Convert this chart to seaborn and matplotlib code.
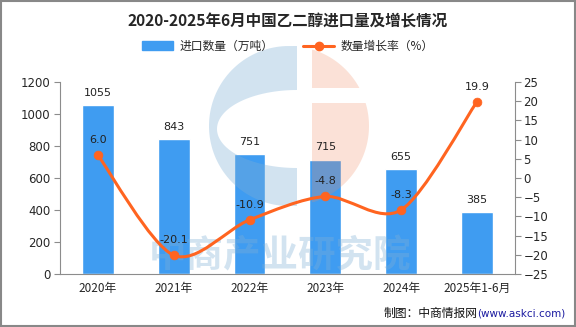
import numpy as np
import pandas as pd
import matplotlib
matplotlib.use("Agg")
import matplotlib.pyplot as plt
from matplotlib.path import Path
from matplotlib.patches import PathPatch, Rectangle, Polygon
from matplotlib.lines import Line2D
from matplotlib.transforms import IdentityTransform
import seaborn as sns

categories = ["2020年", "2021年", "2022年", "2023年", "2024年", "2025年1-6月"]
imports = [1055, 843, 751, 715, 655, 385]
growth = [6.0, -20.1, -10.9, -4.8, -8.3, 19.9]
growth_labels = ["6.0", "-20.1", "-10.9", "-4.8", "-8.3", "19.9"]

sns.set_style("white")
plt.rcParams['font.family'] = ['Noto Sans CJK SC', 'DejaVu Sans']
plt.rcParams['axes.unicode_minus'] = False

BAR = "#3F9CF1"
LINE = "#FF6420"
GRAY = "#8c8c8c"
H = 327

fig = plt.figure(figsize=(5.76, 3.27), dpi=100)
ax = fig.add_axes([0.104, 0.162, 0.790, 0.587])
ax2 = ax.twinx()

df = pd.DataFrame({"cat": categories, "val": imports})
sns.barplot(data=df, x="cat", y="val", color=BAR, saturation=1, width=0.42, ax=ax, zorder=2)
ax.set_xlim(-0.5, 5.5)
ax.set_ylim(0, 1200)
ax.set_yticks(range(0, 1201, 200))
ax.set_xlabel("")
ax.set_ylabel("")
ax.set_xticks(np.arange(-0.5, 5.6, 1), minor=False)
ax.set_xticklabels([])
ax.set_xticks(np.arange(6), minor=True)
ax.set_xticklabels(categories, minor=True)
ax.tick_params(axis="x", which="minor", length=0, labelsize=8.5, pad=6)
ax.tick_params(axis="x", which="major", length=4, color=GRAY, direction="out")
ax.tick_params(axis="y", length=4, color=GRAY, labelsize=8.5, direction="out", pad=3)
for s in ["top", "right"]:
    ax.spines[s].set_visible(False)
for s in ["left", "bottom"]:
    ax.spines[s].set_color(GRAY)
for lab in ax.get_yticklabels():
    lab.set_family(["DejaVu Sans"])

# --- decorative logo watermark (pixel coordinates) ---
cx, cy, r = 289, H - 126, 80
th = np.linspace(np.pi / 2, 3 * np.pi / 2, 80)
xb = cx + 8
outer = np.column_stack([cx + r * np.cos(th), cy + r * np.sin(th)])
outer[0, 0] = xb
outer[-1, 0] = xb
ex, ey, ea, eb = xb, H - 129, 80, 39
th2 = np.linspace(3 * np.pi / 2, np.pi / 2, 80)
inner = np.column_stack([ex + ea * np.cos(th2), ey + eb * np.sin(th2)])
blue_poly = np.vstack([outer, inner])
ax.add_patch(Polygon(blue_poly, closed=True, transform=IdentityTransform(), facecolor="#7fb0d6",
                     alpha=0.35, edgecolor="none", zorder=2.5, clip_on=False))
xo = cx + 23
gap_top, gap_bot = H - 88, H - 103
for (ylo, yhi) in [(gap_top, cy + r), (cy - r, gap_bot)]:
    ys_ = np.linspace(ylo, yhi, 80)
    xs_ = cx + np.sqrt(np.clip(r ** 2 - (ys_ - cy) ** 2, 0, None))
    right = np.column_stack([xs_, ys_])
    mask = right[:, 0] >= xo
    right = right[mask]
    if len(right) == 0:
        continue
    poly = np.vstack([[xo, right[0, 1]], right, [xo, right[-1, 1]]])
    ax.add_patch(Polygon(poly, closed=True, transform=IdentityTransform(), facecolor="#f08a60",
                         alpha=0.25, edgecolor="none", zorder=2.5, clip_on=False))

ax.text(280, H - 256, "中商产业研究院", transform=IdentityTransform(), ha="center", va="center",
        fontsize=27, color="#7fb0d6", alpha=0.35, fontweight="bold", zorder=2.6)

for i, v in enumerate(imports):
    ax.text(i, v + 45, str(v), ha="center", va="bottom", fontsize=8, color="#222222",
            family=["DejaVu Sans"], zorder=5)

ax2.set_ylim(-25, 25)
ax2.set_yticks(range(-25, 26, 5))
ax2.tick_params(axis="y", length=4, color=GRAY, labelsize=8.5, direction="out", pad=2)
for s in ["top", "left", "bottom"]:
    ax2.spines[s].set_visible(False)
ax2.spines["right"].set_color(GRAY)
ax2.set_yticklabels([str(t).replace("-", "−") for t in range(-25, 26, 5)], family=["DejaVu Sans"])

# smooth line (Catmull-Rom -> Bezier)
xs = np.arange(len(growth), dtype=float)
ys = np.array(growth, dtype=float)
pts = np.column_stack([xs, ys])
verts = [tuple(pts[0])]
codes = [Path.MOVETO]
n = len(pts)
k = 0.15
for i in range(n - 1):
    p0 = pts[i - 1] if i > 0 else pts[i]
    p1 = pts[i]
    p2 = pts[i + 1]
    p3 = pts[i + 2] if i + 2 < n else pts[i + 1]
    c1 = p1 + (p2 - p0) * k
    c2 = p2 - (p3 - p1) * k
    verts += [tuple(c1), tuple(c2), tuple(p2)]
    codes += [Path.CURVE4] * 3
ax2.add_patch(PathPatch(Path(verts, codes), facecolor="none", edgecolor=LINE, lw=2.2, zorder=3))
sns.scatterplot(x=xs, y=ys, color=LINE, s=40, edgecolor=LINE, ax=ax2, zorder=4)

for i, (v, t) in enumerate(zip(growth, growth_labels)):
    ax2.text(i, v + 2.6, t, ha="center", va="bottom", fontsize=8, color="#222222",
             family=["DejaVu Sans"])

fig.text(0.5, 0.935, "2020-2025年6月中国乙二醇进口量及增长情况", ha="center", va="center",
         fontsize=11.2, fontweight="bold")

handles = [Rectangle((0, 0), 1, 1, color=BAR),
           Line2D([0], [0], color=LINE, lw=2.2, marker="o", markersize=6)]
fig.legend(handles, ["进口数量（万吨）", "数量增长率（%）"], loc="center", bbox_to_anchor=(0.5, 0.858),
           ncol=2, frameon=False, fontsize=8.5, handlelength=2.6, handleheight=0.8,
           columnspacing=2.5, handletextpad=0.6)

url = fig.text(0.982, 0.042, "(www.askci.com)", ha="right", va="center", fontsize=7.5,
               color="#1a1aa0", family=["DejaVu Sans"])
fig.text(0, 0, "")
ax.annotate("制图：中商情报网", xy=(0, 0.5), xycoords=url, ha="right", va="center",
            fontsize=8.5, color="#111111", annotation_clip=False)

fig.patches.append(Rectangle((0.001, 0.002), 0.997, 0.995, transform=fig.transFigure,
                             fill=False, edgecolor="#888888", lw=1.5))

fig.savefig("out.png", dpi=100)
